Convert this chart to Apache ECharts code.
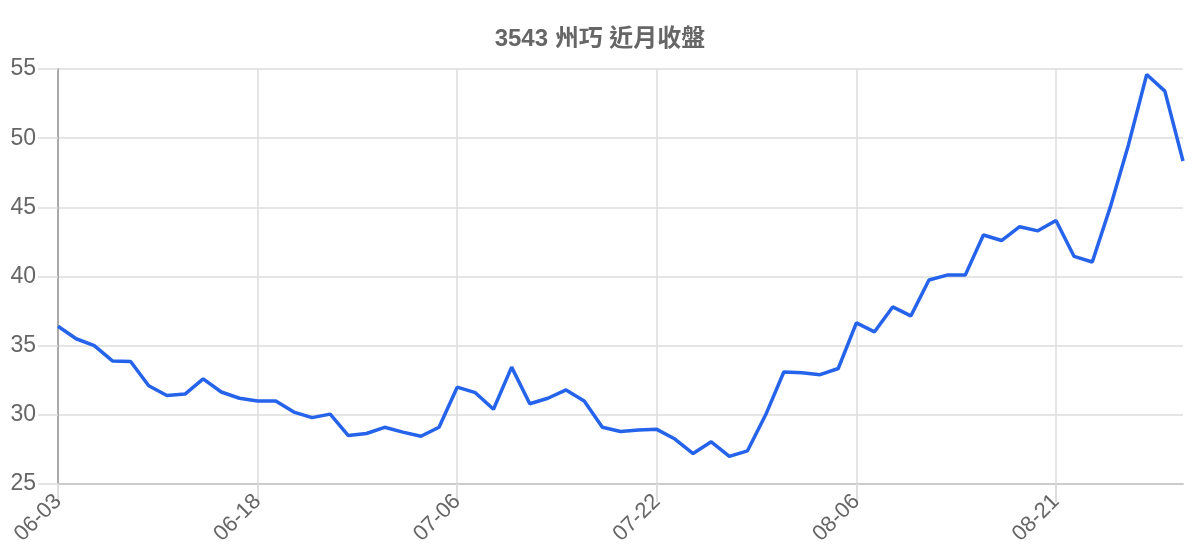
<!DOCTYPE html>
<html>
<head>
<meta charset="utf-8">
<script src="https://cdn.jsdelivr.net/npm/echarts@6/dist/echarts.min.js"></script>
<style>
  html, body { margin: 0; padding: 0; background: #fff; }
  #chart { width: 1200px; height: 560px; }
</style>
</head>
<body>
<div id="chart"></div>
<script>
var titleText = '3543 州巧 近月收盤';

var dates = [
  '06-03','06-04','06-05','06-06','06-07','06-10','06-11','06-12','06-13','06-14','06-17',
  '06-18','06-19','06-20','06-21','06-24','06-25','06-26','06-27','06-28','07-01','07-03',
  '07-06','07-08','07-09','07-10','07-11','07-12','07-15','07-16','07-17','07-18','07-19',
  '07-22','07-23','07-24','07-25','07-26','07-29','07-30','07-31','08-01','08-02','08-05',
  '08-06','08-07','08-08','08-09','08-12','08-13','08-14','08-15','08-16','08-19','08-20',
  '08-21','08-22','08-23','08-26','08-27','08-28','08-29','08-30'
];

var closes = [
  36.4, 35.5, 35.0, 33.9, 33.85, 32.1, 31.4, 31.5, 32.6, 31.65, 31.2,
  31.0, 31.0, 30.2, 29.8, 30.05, 28.5, 28.65, 29.1, 28.75, 28.45, 29.1,
  32.0, 31.6, 30.4, 33.45, 30.8, 31.2, 31.8, 31.0, 29.1, 28.8, 28.9,
  28.95, 28.25, 27.2, 28.05, 27.0, 27.4, 30.0, 33.1, 33.05, 32.9, 33.35,
  36.65, 36.0, 37.8, 37.15, 39.75, 40.1, 40.1, 43.0, 42.6, 43.6, 43.3,
  44.05, 41.45, 41.05, 45.05, 49.55, 54.6, 53.4, 48.35
];

var yMin = 25, yMax = 55, yStep = 5;

var chart = echarts.init(document.getElementById('chart'));

var option = {
  animation: false,
  backgroundColor: '#fff',
  textStyle: { fontFamily: '"Liberation Sans", "Noto Sans CJK TC", sans-serif' },
  title: {
    text: titleText,
    left: 'center',
    top: 22,
    textStyle: {
      fontSize: 24,
      fontWeight: 'bold',
      color: '#666',
      fontFamily: '"Liberation Sans", "Noto Sans CJK TC", sans-serif'
    }
  },
  grid: { left: 58, right: 17, top: 69, bottom: 76, containLabel: false },
  xAxis: {
    type: 'category',
    data: dates,
    boundaryGap: false,
    axisLine: { show: true, lineStyle: { color: '#ccc', width: 2 } },
    axisTick: { show: true, interval: 10, length: 18, lineStyle: { color: '#ddd', width: 2 } },
    axisLabel: {
      interval: 10,
      rotate: 45,
      margin: 14,
      fontSize: 22,
      color: '#666'
    },
    splitLine: { show: true, interval: 10, lineStyle: { color: '#ddd', width: 1.5 } }
  },
  yAxis: {
    type: 'value',
    min: yMin,
    max: yMax,
    interval: yStep,
    axisLine: { show: true, lineStyle: { color: '#aaa', width: 2 } },
    axisTick: { show: true, length: 20, lineStyle: { color: '#ddd', width: 1.5 } },
    axisLabel: { margin: 22, fontSize: 23, color: '#666' },
    splitLine: { show: true, lineStyle: { color: '#ddd', width: 1.5 } }
  },
  series: [
    {
      type: 'line',
      name: '收盤',
      data: closes,
      showSymbol: false,
      symbol: 'none',
      lineStyle: { color: '#2563eb', width: 3.5 },
      itemStyle: { color: '#2563eb' }
    }
  ]
};

chart.setOption(option);
</script>
</body>
</html>
